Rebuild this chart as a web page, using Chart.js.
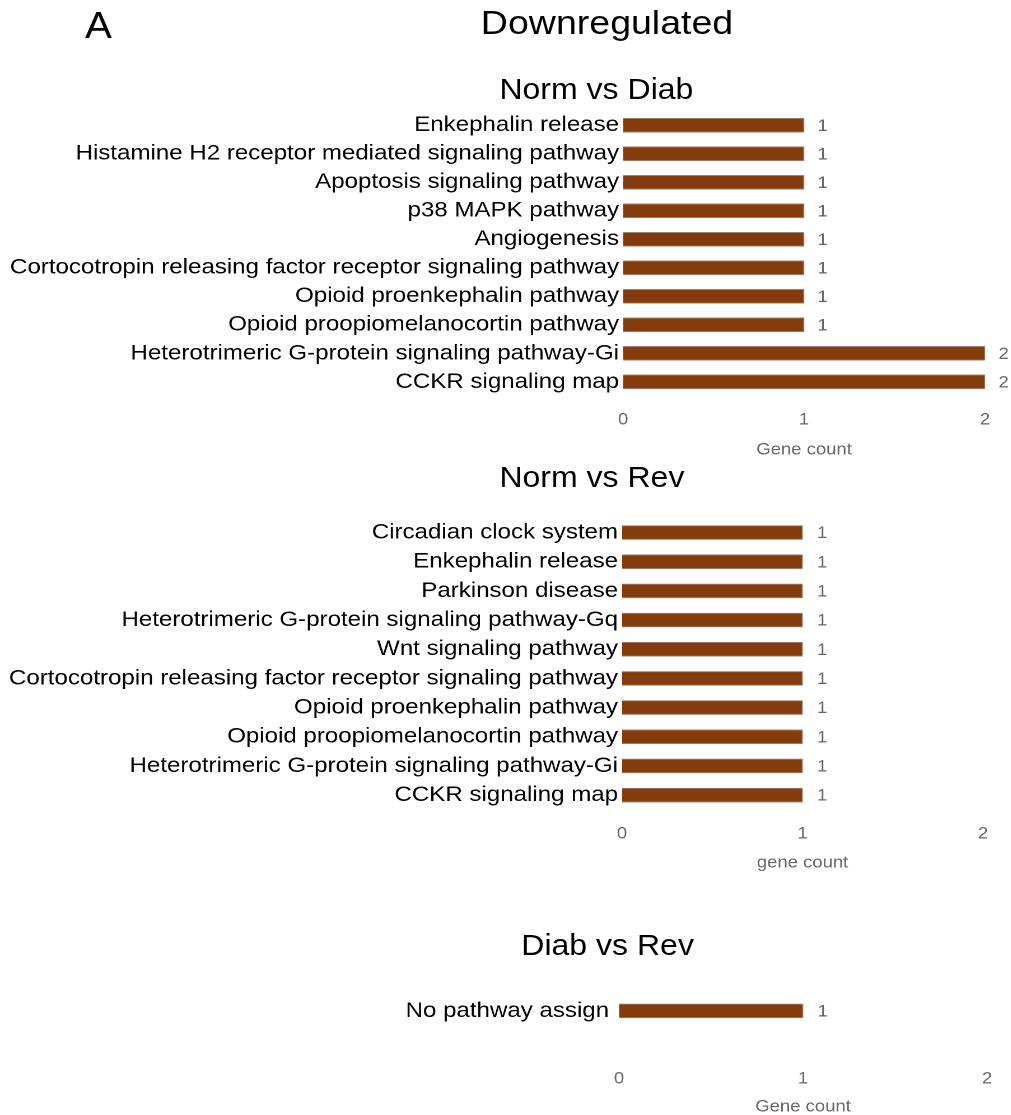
<!DOCTYPE html>
<html>
<head>
<meta charset="utf-8">
<script src="https://cdn.jsdelivr.net/npm/chart.js@4/dist/chart.umd.min.js"></script>
<style>
  html, body { margin: 0; padding: 0; background: #fff; }
  body { width: 1011px; height: 1115px; position: relative; overflow: hidden; font-family: "Liberation Sans", Arial, sans-serif; }
  /* the original figure is stretched ~1.12x horizontally */
  #wrap { position: absolute; left: 0; top: 0; width: 903px; height: 1115px; transform: scaleX(1.12); transform-origin: 0 0; }
  .txt { position: absolute; color: #000; white-space: nowrap; line-height: 1; }
  canvas { position: absolute; left: 0; }
</style>
</head>
<body>
<div id="wrap">
  <div class="txt" style="left:76px; top:8px; font-size:36px;">A</div>
  <div class="txt" style="left:0; width:1084px; text-align:center; top:6px; font-size:33.5px;">Downregulated</div>
  <div class="txt" style="left:0; width:1065px; text-align:center; top:74.5px; font-size:28.6px;">Norm vs Diab</div>
  <div class="txt" style="left:0; width:1057px; text-align:center; top:462.5px; font-size:28.6px;">Norm vs Rev</div>
  <div class="txt" style="left:0; width:1085px; text-align:center; top:930.5px; font-size:28.6px;">Diab vs Rev</div>

  <canvas id="c1" width="903" height="369" style="top:91px"></canvas>
  <canvas id="c2" width="903" height="375" style="top:498px"></canvas>
  <canvas id="c3" width="903" height="177" style="top:940px"></canvas>
</div>

<script>
// Norm vs Diab
const diabLabels = [
  'Enkephalin release',
  'Histamine H2 receptor mediated signaling pathway',
  'Apoptosis signaling pathway',
  'p38 MAPK pathway',
  'Angiogenesis',
  'Cortocotropin releasing factor receptor signaling pathway',
  'Opioid proenkephalin pathway',
  'Opioid proopiomelanocortin pathway',
  'Heterotrimeric G-protein signaling pathway-Gi',
  'CCKR signaling map'
];
const diabCounts = [1, 1, 1, 1, 1, 1, 1, 1, 2, 2];

// Norm vs Rev
const revLabels = [
  'Circadian clock system',
  'Enkephalin release',
  'Parkinson disease',
  'Heterotrimeric G-protein signaling pathway-Gq',
  'Wnt signaling pathway',
  'Cortocotropin releasing factor receptor signaling pathway',
  'Opioid proenkephalin pathway',
  'Opioid proopiomelanocortin pathway',
  'Heterotrimeric G-protein signaling pathway-Gi',
  'CCKR signaling map'
];
const revCounts = [1, 1, 1, 1, 1, 1, 1, 1, 1, 1];

// Diab vs Rev
const diabRevLabels = ['No pathway assign'];
const diabRevCounts = [1];

const xMin = 0;
const xMax = 2;

const FONT = '"Liberation Sans", Arial, sans-serif';
const BAR_COLOR = '#843C0C';
const GREY = '#666666';

// draws the count next to each bar
const valueLabels = {
  id: 'valueLabels',
  afterDatasetsDraw(chart, args, opts) {
    const ctx = chart.ctx;
    const meta = chart.getDatasetMeta(0);
    const vals = chart.data.datasets[0].data;
    ctx.save();
    ctx.font = '16.5px ' + FONT;
    ctx.fillStyle = GREY;
    ctx.textAlign = 'left';
    ctx.textBaseline = 'middle';
    meta.data.forEach((bar, i) => {
      ctx.fillText(vals[i], bar.x + opts.offset, bar.y + 1);
    });
    ctx.restore();
  }
};

function makeChart(id, labels, counts, s) {
  return new Chart(document.getElementById(id), {
    type: 'bar',
    data: {
      labels: labels,
      datasets: [{
        data: counts,
        backgroundColor: BAR_COLOR,
        borderColor: '#a08070',
        borderWidth: 1,
        barThickness: 14
      }]
    },
    plugins: [valueLabels],
    options: {
      indexAxis: 'y',
      responsive: false,
      animation: false,
      devicePixelRatio: 2,
      layout: { padding: { top: s.padTop, right: s.padRight, left: 0, bottom: 0 } },
      plugins: {
        legend: { display: false },
        tooltip: { enabled: false },
        valueLabels: { offset: s.valueOffset }
      },
      scales: {
        x: {
          min: xMin,
          max: xMax,
          grid: { display: false, drawTicks: false },
          border: { display: false },
          ticks: { stepSize: 1, color: GREY, font: { family: FONT, size: 16.5 }, padding: s.tickPad },
          title: {
            display: true,
            text: s.xTitle,
            color: GREY,
            font: { family: FONT, size: 16.5 },
            padding: { top: s.titlePad, bottom: 0 }
          }
        },
        y: {
          grid: { display: false, drawTicks: false },
          border: { display: false },
          ticks: { color: '#000', font: { family: FONT, size: 21.5 }, padding: s.yPad, autoSkip: false },
          afterFit(axis) { axis.width = s.yWidth; }
        }
      }
    }
  });
}

makeChart('c1', diabLabels, diabCounts, {
  padTop: 20, padRight: 23.5, yWidth: 556.3, yPad: 3.6,
  tickPad: 14.1, titlePad: -3.9, xTitle: 'Gene count', valueOffset: 12
});
makeChart('c2', revLabels, revCounts, {
  padTop: 20, padRight: 25.3, yWidth: 555.4, yPad: 3.6,
  tickPad: 14.5, titlePad: -5.3, xTitle: 'gene count', valueOffset: 13
});
makeChart('c3', diabRevLabels, diabRevCounts, {
  padTop: 20, padRight: 21.7, yWidth: 552.7, yPad: 8.9,
  tickPad: 9.1, titlePad: -0.9, xTitle: 'Gene count', valueOffset: 13
});
</script>
</body>
</html>
